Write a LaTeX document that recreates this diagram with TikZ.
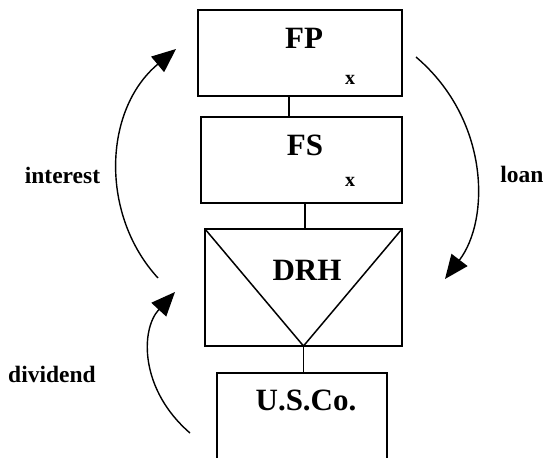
\documentclass[tikz,border=0pt]{standalone}
\usepackage{fontspec}
\setmainfont{Liberation Serif}
\usetikzlibrary{arrows.meta}
\begin{document}
\begin{tikzpicture}[x=1pt,y=-1pt,
  box/.style={draw,line width=1.6pt,rectangle,inner sep=0pt,outer sep=0pt},
  boxtitle/.style={font=\fontsize{31}{31}\selectfont\bfseries,inner sep=0pt},
  smallx/.style={font=\fontsize{20}{20}\selectfont\bfseries,inner sep=0pt},
  flowlabel/.style={font=\fontsize{23.5}{23.5}\selectfont\bfseries,inner sep=0pt,anchor=base},
  link/.style={line width=1.5pt},
  flowarrow/.style={line width=1.4pt,-{Triangle[length=24pt,width=20pt]}}]
\useasboundingbox (0,0) rectangle (547,458);
\clip (0,0) rectangle (547,458);

% entity boxes
\node[box,minimum width=204pt,minimum height=86pt] (fp) at (300,53) {};
\node[box,minimum width=201pt,minimum height=86pt] (fs) at (301.5,160) {};
\node[box,minimum width=197pt,minimum height=117pt] (drh) at (303.5,287.5) {};
\node[box,minimum width=170pt,minimum height=100pt] (usco) at (302,423) {};

% inverted triangle inside the hybrid box
\draw[link] (drh.north west) -- (drh.south) -- (drh.north east);

% ownership links
\draw[link] ([xshift=-11pt]fp.south) -- ([xshift=-12.5pt]fs.north);
\draw[link] ([xshift=3.5pt]fs.south) -- ([xshift=1.5pt]drh.north);
\draw[link] (drh.south) -- (drh.south |- usco.north);

% box texts
\node[boxtitle] (tfp) at (304,38) {FP};
\node[smallx] (xfp) at (350,80) {x};
\node[boxtitle] (tfs) at (305,145) {FS};
\node[smallx] (xfs) at (350,182) {x};
\node[boxtitle] (tdrh) at (307,270) {DRH};
\node[boxtitle] (tusco) at (306,400) {U.S.Co.};

% payment flows
\coordinate (i0) at (158,278);
\coordinate (i1) at (176,49);
\draw[flowarrow] (i0) .. controls (100,215) and (103,110) .. (i1);
\coordinate (d0) at (190,433);
\coordinate (d1) at (175,292);
\draw[flowarrow] (d0) .. controls (140,390) and (140,330) .. (d1);
\coordinate (l0) at (416,57);
\coordinate (l1) at (445,279);
\draw[flowarrow] (l0) .. controls (490,120) and (490,220) .. (l1);

% flow labels
\node[flowlabel] (linterest) at (62.5,183) {interest};
\node[flowlabel] (ldividend) at (52,382) {dividend};
\node[flowlabel] (lloan) at (522,182) {loan};
\end{tikzpicture}
\end{document}
